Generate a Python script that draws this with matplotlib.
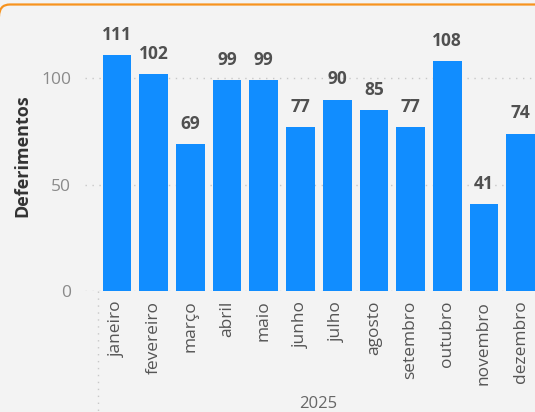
import matplotlib
matplotlib.use("Agg")
import matplotlib.pyplot as plt
from matplotlib.patches import PathPatch
from matplotlib.path import Path
from matplotlib.lines import Line2D

# monthly counts for 2025
months = ["janeiro", "fevereiro", "março", "abril", "maio", "junho",
          "julho", "agosto", "setembro", "outubro", "novembro", "dezembro"]
deferimentos = [111, 102, 69, 99, 99, 77, 90, 85, 77, 108, 41, 74]
y_ticks = [0, 50, 100]
year_label = "2025"

W, H = 535, 412
BG = "#f3f3f3"
BAR = "#118dff"

plt.rcParams["font.family"] = ["Open Sans", "DejaVu Sans"]

fig = plt.figure(figsize=(W / 100, H / 100), dpi=100)
fig.patch.set_facecolor(BG)

# orange card border: top edge with a rounded corner starting at the left
top = 1 - 4.5 / H
verts = [(-1 / W, top - 12 / H), (-1 / W, top), (10 / W, top), (1.01, top)]
codes = [Path.MOVETO, Path.CURVE3, Path.CURVE3, Path.LINETO]
fig.patches.append(PathPatch(Path(verts, codes), transform=fig.transFigure,
                             facecolor="none", edgecolor="#f7931e",
                             linewidth=1.6, zorder=10))

ax_left, ax_bottom = 85, 291
ax = fig.add_axes([ax_left / W, (H - ax_bottom) / H, 1 - ax_left / W, (ax_bottom - 20) / H])
ax.set_facecolor(BG)

x = list(range(len(months)))
ax.bar(x, deferimentos, width=0.78, color=BAR, zorder=3)
ax.set_xlim(-0.872, 11.39)
ax.set_ylim(0, 127.4)

for xi, v in zip(x, deferimentos):
    ax.annotate(str(v), (xi, v), xytext=(0, 8), textcoords="offset points",
                ha="center", va="bottom", fontsize=12.5, fontweight="bold",
                color="#505050", clip_on=False)

for s in ax.spines.values():
    s.set_visible(False)

ax.set_yticks(y_ticks)
ax.tick_params(axis="y", length=0, pad=10, labelsize=12.5, labelcolor="#8a8a8a")
ax.yaxis.grid(True, linestyle=(0, (1, 4)), color="#c8c8c8", linewidth=1, zorder=0)

ax.set_xticks(x)
ax.set_xticklabels(months, rotation=90, fontsize=12.5, color="#555555")
ax.tick_params(axis="x", length=0, pad=7)

# y axis title placed by hand so it sits clear of the tick labels
fig.text(22 / W, 1 - 156 / H, "Deferimentos", rotation=90, ha="center", va="center",
         fontsize=13, fontweight="bold", color="#333333")

# dotted separator under the category axis
ax.add_line(Line2D([-0.52, -0.52], [0, -0.45], transform=ax.get_xaxis_transform(),
                   linestyle=(0, (1, 4)), color="#c8c8c8", linewidth=1, clip_on=False))

fig.text(318 / W, 1 - 404 / H, year_label, ha="center", va="center",
         fontsize=12, color="#666666")

fig.savefig("out.png", dpi=100, facecolor=BG)
